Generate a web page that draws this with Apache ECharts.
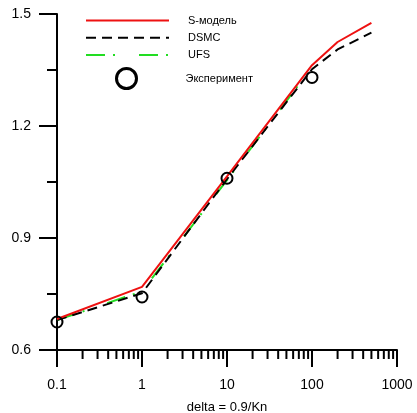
<!DOCTYPE html>
<html>
<head>
<meta charset="utf-8">
<script src="https://cdn.jsdelivr.net/npm/echarts@6/dist/echarts.min.js"></script>
<style>
  html, body { margin: 0; padding: 0; background: #fff; }
  #chart { width: 417px; height: 413px; }
</style>
</head>
<body>
<div id="chart"></div>
<script>
// delta values
const deltaModel = [0.1, 1, 10, 100, 200, 500]
const deltaUfs = [0.1, 1, 10, 100]
const deltaExp = [0.1, 1, 10, 100]
// Q values
const qSModel = [0.683, 0.769, 1.065, 1.363, 1.425, 1.476]
const qDsmc = [0.680, 0.752, 1.058, 1.352, 1.405, 1.450]
const qUfs = [0.680, 0.757, 1.055, 1.358]
const qExp = [0.675, 0.742, 1.060, 1.330]
// minor ticks on the log axis
const minorX = [0.2, 0.3, 0.4, 0.5, 0.6, 0.7, 0.8, 0.9,
  2, 3, 4, 5, 6, 7, 8, 9,
  20, 30, 40, 50, 60, 70, 80, 90,
  200, 300, 400, 500, 600, 700, 800, 900]
const names = ['S-модель', 'DSMC', 'UFS', 'Эксперимент']

const zip = (xs, ys) => xs.map((x, i) => [x, ys[i]])
const font = 'Arial, "Liberation Sans", sans-serif'

const chart = echarts.init(document.getElementById('chart'), null, { renderer: 'canvas' })
chart.setOption({
  animation: false,
  grid: { left: 57, right: 20, top: 14, bottom: 63, containLabel: false, outerBoundsMode: 'none' },
  legend: [
    {
      data: names.slice(0, 3),
      orient: 'vertical',
      left: 80,
      top: 10,
      itemWidth: 83,
      itemHeight: 14,
      itemGap: 6,
      itemStyle: { opacity: 0, color: 'rgba(0,0,0,0)', borderWidth: 0 },
      textStyle: { fontSize: 11, color: '#000', fontFamily: font, padding: [0, 0, 0, 14] }
    },
    {
      data: [{
        name: names[3],
        icon: 'circle',
        itemStyle: { color: 'rgba(0,0,0,0)', borderColor: '#000', borderWidth: 3, opacity: 1 }
      }],
      orient: 'vertical',
      left: 110,
      top: 62,
      itemWidth: 20,
      itemHeight: 20,
      textStyle: { fontSize: 11, color: '#000', fontFamily: font, padding: [0, 0, 0, 44] }
    }
  ],
  xAxis: {
    type: 'log',
    logBase: 10,
    min: 0.1,
    max: 1000,
    name: 'delta = 0.9/Kn',
    nameLocation: 'middle',
    nameGap: 51,
    nameTextStyle: { fontSize: 13, color: '#000', fontFamily: font },
    axisLine: { lineStyle: { color: '#000', width: 2 } },
    axisTick: { length: 17, lineStyle: { color: '#000', width: 2 } },
    minorTick: { show: false },
    axisLabel: {
      margin: 28, fontSize: 14, color: '#000', fontFamily: font,
      formatter: v => String(+v.toPrecision(3))
    },
    splitLine: { show: false }
  },
  yAxis: {
    type: 'value',
    min: 0.6,
    max: 1.5,
    interval: 0.3,
    name: 'Q',
    nameLocation: 'middle',
    nameRotate: 90,
    nameGap: 40,
    nameTextStyle: { fontSize: 14, color: '#000', fontFamily: font },
    axisLine: { lineStyle: { color: '#000', width: 2 } },
    axisTick: { length: 18, lineStyle: { color: '#000', width: 2 } },
    minorTick: { show: true, splitNumber: 2, length: 10, lineStyle: { color: '#000', width: 2 } },
    axisLabel: {
      margin: 26, fontSize: 14, color: '#000', fontFamily: font,
      formatter: v => v.toFixed(1)
    },
    splitLine: { show: false }
  },
  series: [
    {
      // minor ticks of the log axis
      type: 'custom',
      silent: true,
      clip: false,
      data: minorX.map(v => [v, 0.6]),
      renderItem: (params, api) => {
        const p = api.coord([api.value(0), api.value(1)])
        return {
          type: 'line',
          shape: { x1: p[0], y1: p[1], x2: p[0], y2: p[1] + 9 },
          style: { stroke: '#000', lineWidth: 2 }
        }
      },
      z: 1
    },
    {
      name: names[2],
      type: 'line',
      data: zip(deltaUfs, qUfs),
      symbol: 'none',
      lineStyle: { color: '#22dd22', width: 2, type: [19, 8, 2, 24] },
      itemStyle: { color: '#22dd22' },
      z: 2
    },
    {
      name: names[1],
      type: 'line',
      data: zip(deltaModel, qDsmc),
      symbol: 'none',
      lineStyle: { color: '#000', width: 2, type: [10, 6] },
      itemStyle: { color: '#000' },
      z: 3
    },
    {
      name: names[0],
      type: 'line',
      data: zip(deltaModel, qSModel),
      symbol: 'none',
      lineStyle: { color: '#ee1111', width: 2 },
      itemStyle: { color: '#ee1111' },
      z: 4
    },
    {
      name: names[3],
      type: 'scatter',
      data: zip(deltaExp, qExp),
      symbol: 'circle',
      symbolSize: 11,
      itemStyle: { color: 'rgba(0,0,0,0)', borderColor: '#000', borderWidth: 2, opacity: 1 },
      z: 5
    }
  ]
})
</script>
</body>
</html>
